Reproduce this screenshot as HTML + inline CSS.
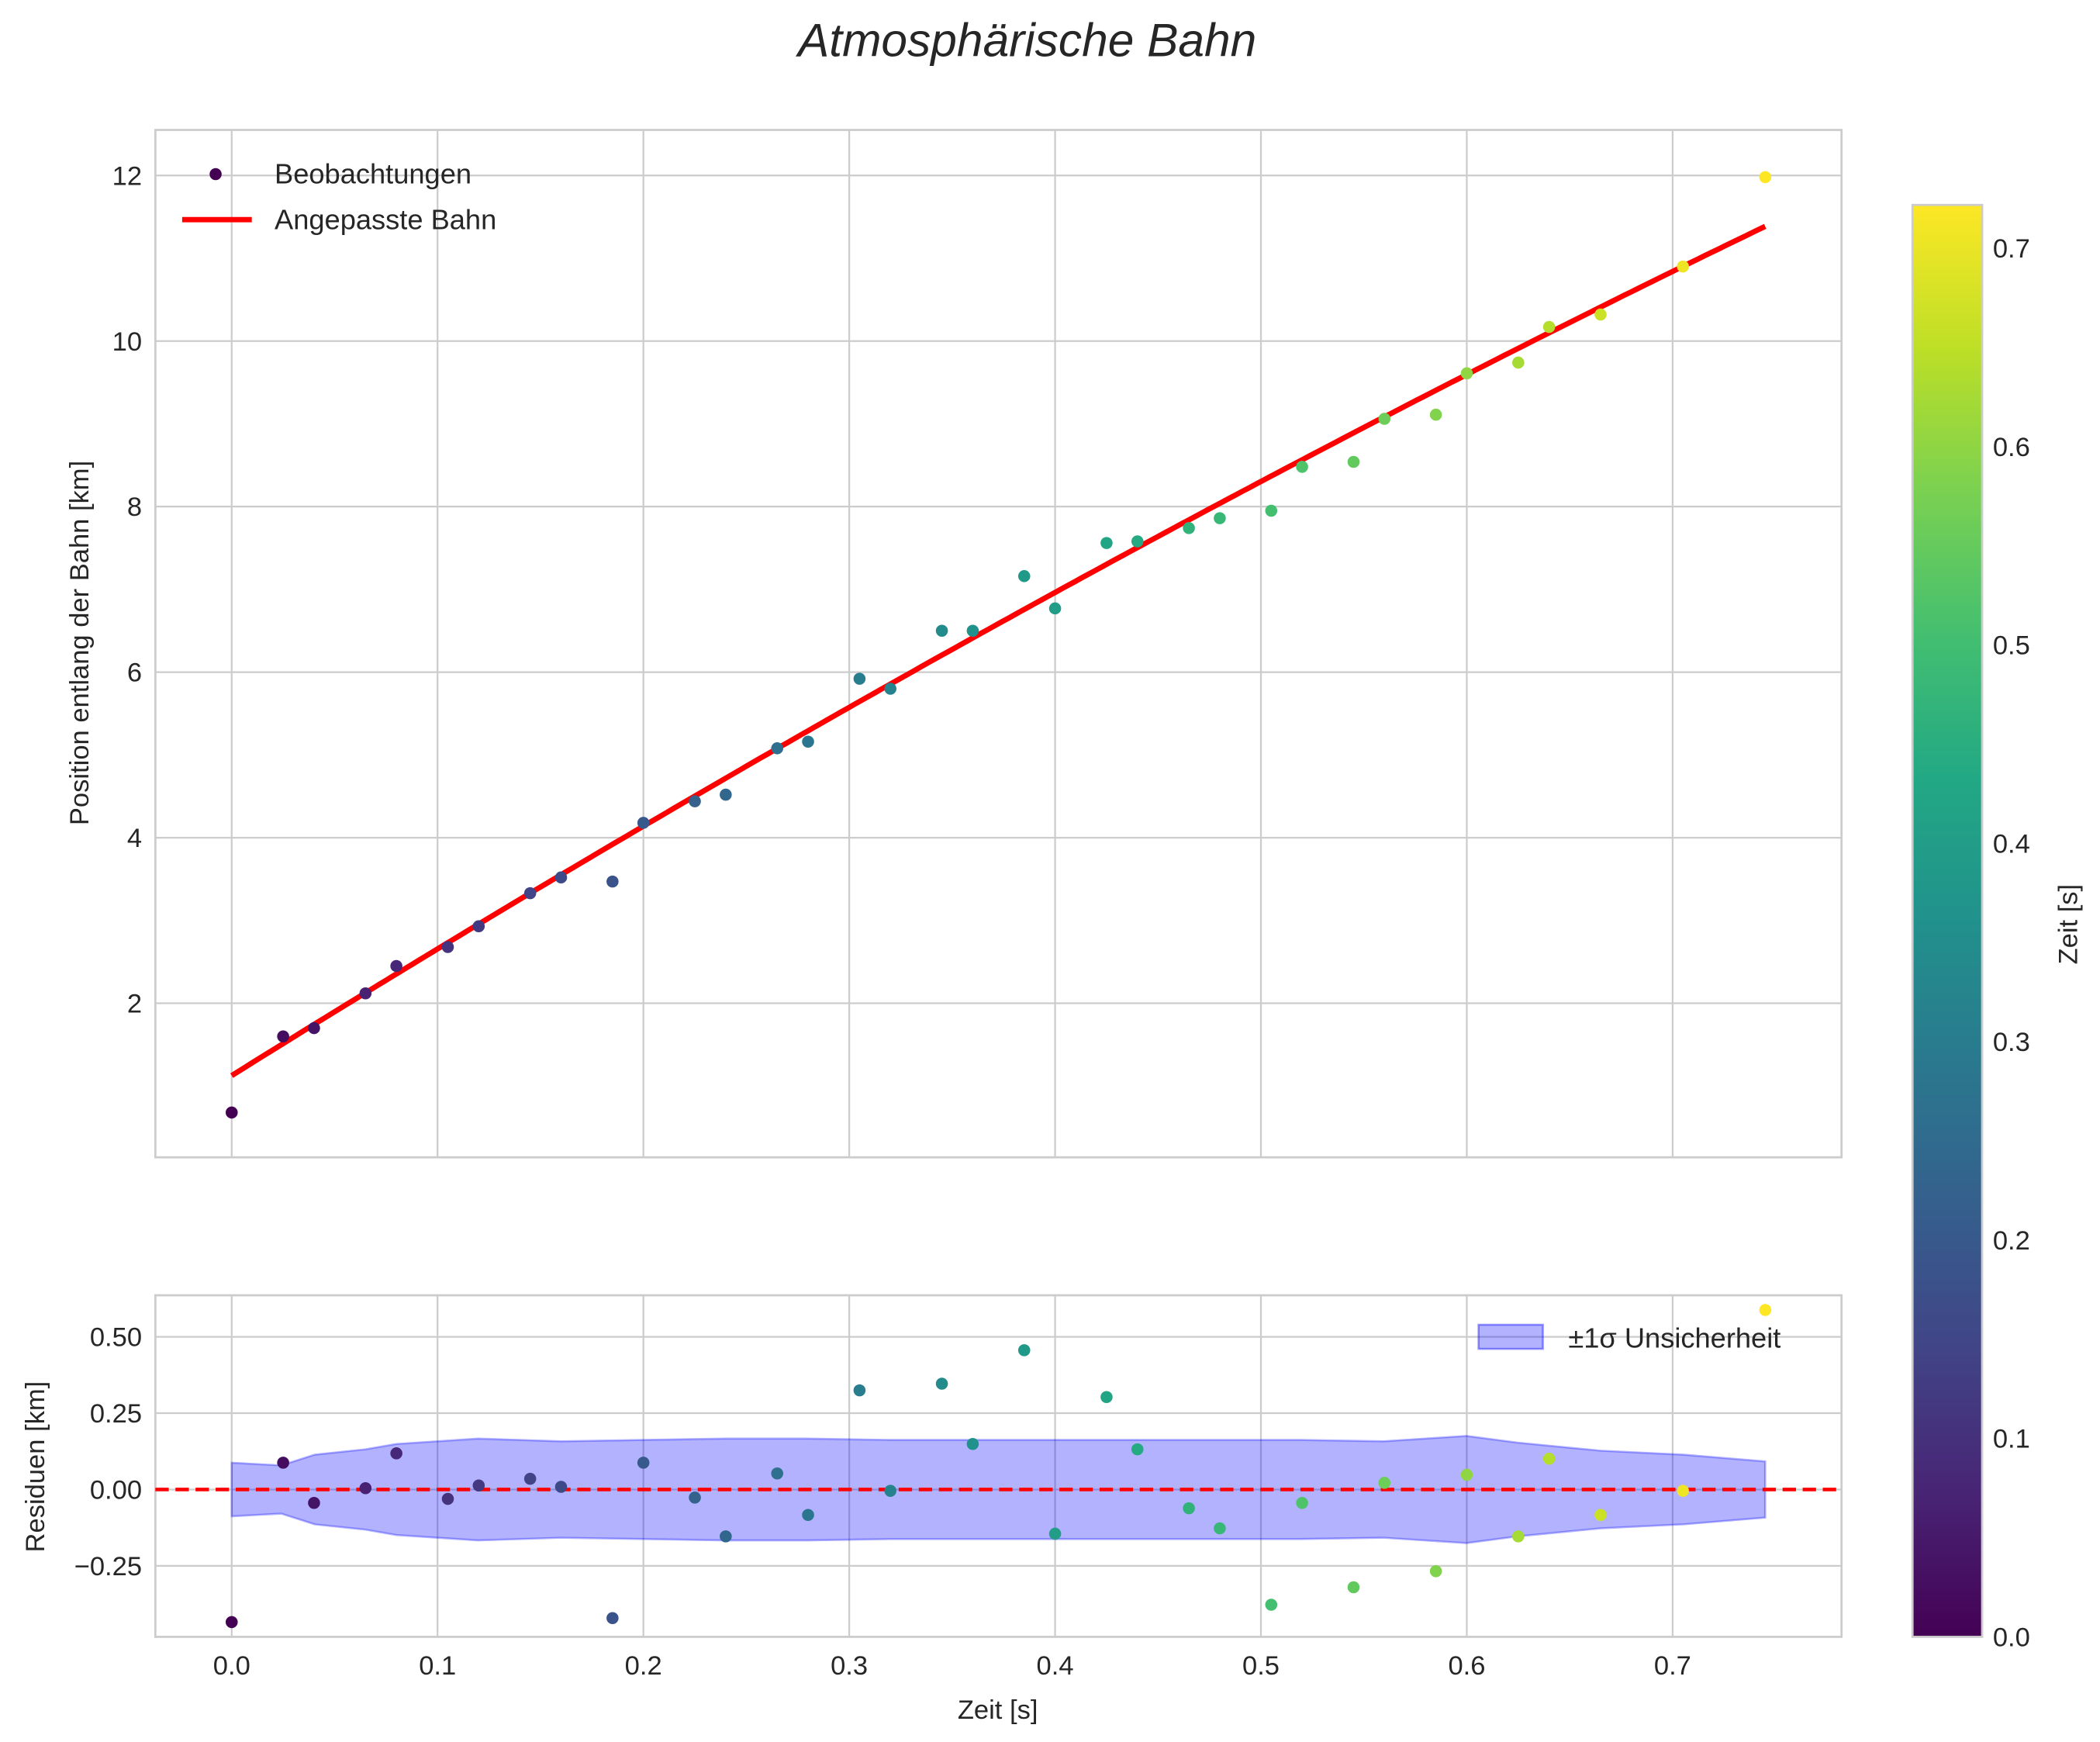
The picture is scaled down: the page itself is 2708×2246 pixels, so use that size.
<!DOCTYPE html>
<html><head><meta charset="utf-8">
<style>
html,body{margin:0;padding:0;background:#fff;}
svg{display:block;}
text{font-family:"Liberation Sans",sans-serif;fill:#262626;}
</style></head>
<body>
<svg id="s" width="2708" height="2246" viewBox="0 0 1568 1300.5" preserveAspectRatio="none" xmlns="http://www.w3.org/2000/svg">
<defs>
<linearGradient id="vg" x1="0" y1="1" x2="0" y2="0">
<stop offset="0" stop-color="#440154"/><stop offset="0.1" stop-color="#482475"/><stop offset="0.2" stop-color="#414487"/><stop offset="0.3" stop-color="#355f8d"/><stop offset="0.4" stop-color="#2a788e"/><stop offset="0.5" stop-color="#21918c"/><stop offset="0.6" stop-color="#22a884"/><stop offset="0.7" stop-color="#44bf70"/><stop offset="0.8" stop-color="#7ad151"/><stop offset="0.9" stop-color="#bddf26"/><stop offset="1" stop-color="#fde725"/>
</linearGradient>
</defs>
<rect width="1568" height="1300.5" fill="#fff"/>
<text x="767" y="42" font-size="35" font-style="italic" text-anchor="middle">Atmosphärische Bahn</text>
<g id="g"></g>
</svg>
<script>
var NS="http://www.w3.org/2000/svg",g=document.getElementById('g');
function el(t,a,txt){var e=document.createElementNS(NS,t);for(var k in a)e.setAttribute(k,a[k]);if(txt!=null)e.textContent=txt;g.appendChild(e);return e;}
var stops=[[68,1,84],[72,36,117],[65,68,135],[53,95,141],[42,120,142],[33,145,140],[34,168,132],[68,191,112],[122,209,81],[189,223,38],[253,231,37]];
function vir(v){v=Math.max(0,Math.min(1,v))*10;var i=Math.min(9,Math.floor(v)),f=v-i,a=stops[i],b=stops[i+1];
return 'rgb('+[0,1,2].map(function(j){return Math.round(a[j]+(b[j]-a[j])*f)}).join(',')+')';}
function X(t){return 173+1537*t;}
function Y1(v){return 131+(12-v)*61.8;}
function Y2(r){return 1112-228*r;}
var T=[0,.025,.04,.065,.08,.105,.12,.145,.16,.185,.2,.225,.24,.265,.28,.305,.32,.345,.36,.385,.4,.425,.44,.465,.48,.505,.52,.545,.56,.585,.6,.625,.64,.665,.705,.745];
var P=[0.68,1.6,1.7,2.12,2.45,2.68,2.93,3.33,3.52,3.47,4.18,4.44,4.52,5.08,5.16,5.92,5.8,6.5,6.5,7.16,6.77,7.56,7.58,7.74,7.86,7.95,8.48,8.54,9.06,9.11,9.61,9.74,10.17,10.32,10.9,11.98];
var R=[1211,1092,1122,1111,1085,1119,1109,1104,1110,1208,1092,1118,1147,1100,1131,1038,1113,1033,1078,1008,1145,1043,1082,1126,1141,1198,1122,1185,1107,1173,1101,1147,1089,1131,1113,978];
var grid='#cccccc';
var tx=[0,.1,.2,.3,.4,.5,.6,.7];
tx.forEach(function(t){el('line',{x1:X(t),x2:X(t),y1:97,y2:864,stroke:grid,'stroke-width':1.3});});
[2,4,6,8,10,12].forEach(function(v){var y=Y1(v);el('line',{x1:116,x2:1375,y1:y,y2:y,stroke:grid,'stroke-width':1.3});
el('text',{x:106,y:y+7,'font-size':20,'text-anchor':'end'},v);});
el('rect',{x:116,y:97,width:1259,height:767,fill:'none',stroke:grid,'stroke-width':1.6});
el('text',{x:66,y:480,'font-size':20,'text-anchor':'middle',transform:'rotate(-90 66 480)'},'Position entlang der Bahn [km]');
(function(){var x0=173,x1=480,x2=1318,y0=803,y1=617,y2=169;
var d='';for(var x=173;x<=1318;x+=5){var L0=(x-x1)*(x-x2)/((x0-x1)*(x0-x2)),L1=(x-x0)*(x-x2)/((x1-x0)*(x1-x2)),L2=(x-x0)*(x-x1)/((x2-x0)*(x2-x1));
var y=y0*L0+y1*L1+y2*L2;d+=(d?' L':'M')+x+','+y.toFixed(1);}
el('path',{d:d,fill:'none',stroke:'#ff0000','stroke-width':4});})();
T.forEach(function(t,i){el('circle',{cx:X(t),cy:Y1(P[i]),r:4.5,fill:vir(t/0.722)});});
el('circle',{cx:161,cy:130,r:4.5,fill:vir(0)});
el('text',{x:205,y:137,'font-size':21},'Beobachtungen');
el('line',{x1:136,x2:188,y1:164,y2:164,stroke:'#ff0000','stroke-width':4});
el('text',{x:205,y:171,'font-size':21},'Angepasste Bahn');
tx.forEach(function(t){el('line',{x1:X(t),x2:X(t),y1:967,y2:1222,stroke:grid,'stroke-width':1.3});
el('text',{x:X(t),y:1250,'font-size':20,'text-anchor':'middle'},t.toFixed(1));});
[[0.5,'0.50'],[0.25,'0.25'],[0,'0.00'],[-0.25,'−0.25']].forEach(function(a){var y=Y2(a[0]);el('line',{x1:116,x2:1375,y1:y,y2:y,stroke:grid,'stroke-width':1.3});
el('text',{x:106,y:y+7,'font-size':20,'text-anchor':'end'},a[1]);});
el('rect',{x:116,y:967,width:1259,height:255,fill:'none',stroke:grid,'stroke-width':1.6});
el('text',{x:33,y:1095,'font-size':20,'text-anchor':'middle',transform:'rotate(-90 33 1095)'},'Residuen [km]');
el('text',{x:745,y:1283,'font-size':20,'text-anchor':'middle'},'Zeit [s]');
var bx=[173,210,235,273,296,357,419,480,541,603,664,726,787,849,910,971,1033,1095,1133,1195,1257,1318];
var bu=[1092,1094,1086,1082,1078,1074,1076,1075,1074,1074,1075,1075,1075,1075,1075,1075,1076,1072,1077,1083,1086,1091];
var d='M'+bx.map(function(x,i){return x+','+bu[i];}).join(' L');
for(var i=bx.length-1;i>=0;i--)d+=' L'+bx[i]+','+(2224-bu[i]);d+=' Z';
el('path',{d:d,fill:'rgba(0,0,255,0.3)',stroke:'rgba(0,0,255,0.3)','stroke-width':1.5});
el('line',{x1:116,x2:1375,y1:1112,y2:1112,stroke:'#ff0000','stroke-width':2.7,'stroke-dasharray':'10,5'});
T.forEach(function(t,i){el('circle',{cx:X(t),cy:R[i],r:4.5,fill:vir(t/0.722)});});
el('rect',{x:1104,y:989,width:48,height:18,fill:'rgba(0,0,255,0.3)',stroke:'rgba(0,0,255,0.4)','stroke-width':1.5});
el('text',{x:1171,y:1006,'font-size':21},'±1σ Unsicherheit');
el('rect',{x:1428,y:153,width:52,height:1069,fill:'url(#vg)',stroke:grid,'stroke-width':1.6});
for(var k=0;k<=7;k++){var y=1222-1481*k/10;el('text',{x:1488,y:y+7,'font-size':20},(k/10).toFixed(1));}
el('text',{x:1551,y:690,'font-size':20,'text-anchor':'middle',transform:'rotate(-90 1551 690)'},'Zeit [s]');
</script>
</body></html>
